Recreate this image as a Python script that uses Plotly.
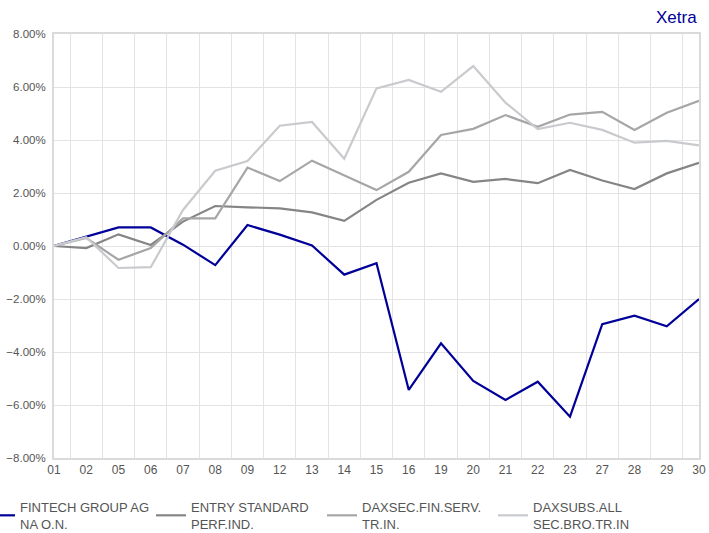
import plotly.graph_objects as go

days = ["01", "02", "05", "06", "07", "08", "09", "12", "13", "14", "15",
        "16", "19", "20", "21", "22", "23", "27", "28", "29", "30"]

fintech = [0.0, 0.35, 0.70, 0.70, 0.05, -0.72, 0.79, 0.43, 0.02, -1.08, -0.65,
           -5.43, -3.67, -5.09, -5.81, -5.12, -6.44, -2.95, -2.63, -3.03, -2.00]
entry = [0.0, -0.08, 0.44, 0.04, 0.92, 1.51, 1.46, 1.42, 1.27, 0.95, 1.74,
         2.39, 2.74, 2.42, 2.53, 2.37, 2.87, 2.47, 2.15, 2.74, 3.14]
daxsec = [0.0, 0.30, -0.52, -0.08, 1.04, 1.04, 2.96, 2.45, 3.22, 2.66, 2.11,
          2.80, 4.19, 4.42, 4.94, 4.50, 4.96, 5.06, 4.38, 5.03, 5.48]
daxsubs = [0.0, 0.33, -0.83, -0.80, 1.36, 2.84, 3.21, 4.54, 4.68, 3.29, 5.95,
           6.27, 5.82, 6.79, 5.41, 4.41, 4.65, 4.38, 3.90, 3.97, 3.80]

names = ["FINTECH GROUP AG<br>NA O.N.", "ENTRY STANDARD<br>PERF.IND.",
         "DAXSEC.FIN.SERV.<br>TR.IN.", "DAXSUBS.ALL<br>SEC.BRO.TR.IN"]
series = [fintech, entry, daxsec, daxsubs]
colors = ["#000099", "#858585", "#a6a6a6", "#c8cacd"]

fig = go.Figure()
for nm, vals, col in zip(names, series, colors):
    fig.add_trace(go.Scatter(x=days, y=vals, mode="lines", name=nm,
                             line=dict(color=col, width=2.2)))

fig.update_layout(
    width=709, height=533,
    margin=dict(l=54, r=10, t=34, b=75, autoexpand=False),
    paper_bgcolor="white", plot_bgcolor="white",
    font=dict(family="Liberation Sans, Arial, sans-serif", color="#555555", size=12),
    showlegend=True,
    legend=dict(orientation="h", x=-0.1147, xanchor="left", y=-0.080, yanchor="top",
                entrywidth=126, entrywidthmode="pixels",
                font=dict(size=13, color="#555555"), traceorder="normal",
                bgcolor="rgba(0,0,0,0)"),
    annotations=[dict(text="Xetra", xref="paper", yref="paper", x=1.0, y=1.04,
                      xanchor="right", yanchor="middle", showarrow=False,
                      font=dict(size=17, color="#000099"))],
)
fig.update_xaxes(type="category", tickson="boundaries", showgrid=True,
                 gridcolor="#e3e3e3", gridwidth=1, showline=True, linecolor="#dadada",
                 linewidth=2, mirror=True, ticks="", tickfont=dict(size=12, color="#555555"))
fig.update_yaxes(range=[-8, 8], dtick=2, tick0=0, tickformat=".2f", ticksuffix="%",
                 showgrid=True, gridcolor="#e3e3e3", gridwidth=1, zeroline=False,
                 showline=True, linecolor="#dadada", linewidth=2, mirror=True,
                 ticks="", ticklabelstandoff=4, tickfont=dict(size=11.5, color="#555555"))

fig.write_html("out.html", config={"displayModeBar": False},
               post_script="document.body.style.margin='0';document.body.style.overflow='hidden';")
